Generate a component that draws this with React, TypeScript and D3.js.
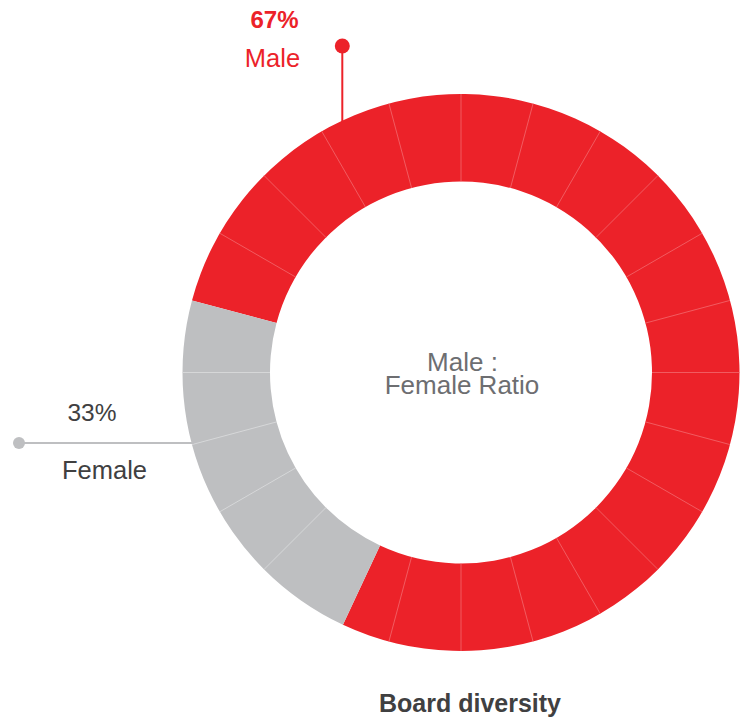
import React from "react";
import * as d3 from "d3";

const categories = ["Male", "Female"];
const arcShares = [77.8, 22.2]; // share of the ring as drawn
const valueLabels = ["67%", "33%"];
const segmentCount = 24;
const centerLines = ["Male :", "Female Ratio"];
const title = "Board diversity";

const W = 747;
const H = 719;
const cx = 461;
const cy = 372.5;
const rOuter = 278.5;
const rInner = 191;
const RED = "#EC2229";
const GRAY = "#BEBFC1";
const FONT = "'Liberation Sans', Arial, Helvetica, sans-serif";

export default function App() {
  const startDeg = 285;
  const pie = d3
    .pie<number>()
    .sort(null)
    .value((d) => d)
    .startAngle((startDeg * Math.PI) / 180)
    .endAngle((startDeg * Math.PI) / 180 + 2 * Math.PI);
  const arcs = pie(arcShares);
  const arcGen = d3.arc<d3.PieArcDatum<number>>().innerRadius(rInner).outerRadius(rOuter);
  const colors = d3.scaleOrdinal<string, string>().domain(categories).range([RED, GRAY]);

  const segScale = d3.scaleLinear().domain([0, segmentCount]).range([0, 2 * Math.PI]);
  const boundaries = arcs.map((a) => a.startAngle % (2 * Math.PI));
  const dividers = d3.range(segmentCount).map((i) => segScale(i)).filter((ang) =>
    boundaries.every((b) => {
      let d = Math.abs(ang - b) % (2 * Math.PI);
      d = Math.min(d, 2 * Math.PI - d);
      return d > (6 * Math.PI) / 180;
    })
  );

  const femaleArc = arcs[1];
  const inFemale = (ang: number) => {
    const s = femaleArc.startAngle % (2 * Math.PI);
    const e = femaleArc.endAngle % (2 * Math.PI) || 2 * Math.PI;
    return ang > s && ang < e;
  };

  // leader positions
  const maleX = 342.3;
  const maleTopY = 46;
  const maleRingY = cy - Math.sqrt(rOuter * rOuter - (cx - maleX) * (cx - maleX)) + 2;
  const femY = 443;
  const femX0 = 19;
  const femRingX = cx - Math.sqrt(rOuter * rOuter - (cy - femY) * (cy - femY)) + 2;

  return (
    <svg width={W} height={H} style={{ position: "absolute", left: 0, top: 0 }} fontFamily={FONT}>
      <g transform={`translate(${cx},${cy})`}>
        {arcs.map((a, i) => (
          <path key={i} d={arcGen(a) || ""} fill={colors(categories[i])} />
        ))}
        {dividers.map((ang, i) => {
          const sx = Math.sin(ang), sy = -Math.cos(ang);
          return (
            <line
              key={i}
              x1={sx * rInner}
              y1={sy * rInner}
              x2={sx * rOuter}
              y2={sy * rOuter}
              stroke={inFemale(ang) ? "#DCDDDE" : "#F26A6F"}
              strokeWidth={0.8}
            />
          );
        })}
      </g>

      {/* Male leader */}
      <line x1={maleX} y1={maleTopY} x2={maleX} y2={maleRingY} stroke={RED} strokeWidth={2} />
      <circle cx={maleX} cy={maleTopY} r={7.5} fill={RED} />
      <text x={274.5} y={27.5} textAnchor="middle" fill={RED} fontSize={24} fontWeight="bold">
        {valueLabels[0]}
      </text>
      <text x={272.5} y={67} textAnchor="middle" fill={RED} fontSize={25.5}>
        {categories[0]}
      </text>

      {/* Female leader */}
      <line x1={femX0} y1={femY} x2={femRingX} y2={femY} stroke={GRAY} strokeWidth={2} />
      <circle cx={femX0} cy={femY} r={6} fill={GRAY} />
      <text x={92} y={421} textAnchor="middle" fill="#404041" fontSize={24.5}>
        {valueLabels[1]}
      </text>
      <text x={104.5} y={479} textAnchor="middle" fill="#404041" fontSize={25.5}>
        {categories[1]}
      </text>

      {/* Center */}
      <text x={462.5} y={371} textAnchor="middle" fill="#6D6E71" fontSize={26}>
        {centerLines[0]}
      </text>
      <text x={462} y={394} textAnchor="middle" fill="#6D6E71" fontSize={26}>
        {centerLines[1]}
      </text>

      {/* Title */}
      <text x={470} y={712} textAnchor="middle" fill="#404041" fontSize={25} fontWeight="bold">
        {title}
      </text>
    </svg>
  );
}
